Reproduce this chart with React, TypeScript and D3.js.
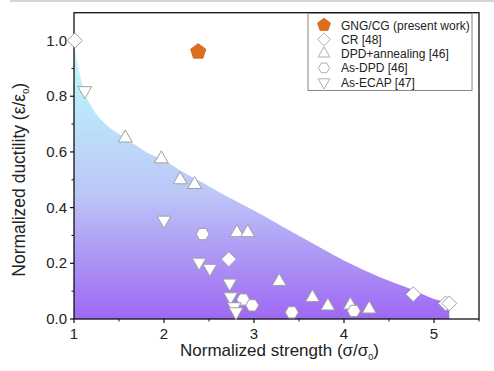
import React from "react";
import * as d3 from "d3";

const W = 494, H = 371;
const margin = { left: 74, right: 15, top: 12.7, bottom: 52 };

const gngX = [2.38]; const gngY = [0.96];
const crX = [1.01, 2.72, 4.77, 5.13, 5.17];
const crY = [1.0, 0.215, 0.089, 0.056, 0.056];
const dpdAnnX = [1.57, 1.97, 2.18, 2.34, 2.81, 2.93, 3.28, 3.65, 3.82, 4.07, 4.28];
const dpdAnnY = [0.65, 0.575, 0.5, 0.483, 0.31, 0.31, 0.135, 0.077, 0.047, 0.05, 0.036];
const asDpdX = [2.43, 2.88, 2.98, 3.42, 4.11];
const asDpdY = [0.305, 0.07, 0.049, 0.024, 0.029];
const ecapX = [1.12, 2.0, 2.39, 2.51, 2.73, 2.74, 2.78, 2.8];
const ecapY = [0.82, 0.355, 0.204, 0.182, 0.129, 0.08, 0.044, 0.026];

const envX = [1.0, 1.02, 1.05, 1.1, 1.2, 1.35, 1.57, 1.8, 2.0, 2.2, 2.4, 2.7, 3.0, 3.3, 3.62, 4.0, 4.4, 4.77, 5.0, 5.17];
const envY = [1.0, 0.95, 0.9, 0.83, 0.76, 0.7, 0.65, 0.6, 0.57, 0.53, 0.495, 0.44, 0.39, 0.335, 0.277, 0.21, 0.15, 0.104, 0.072, 0.06];

const xTicks = [1, 2, 3, 4, 5];
const yTicks = [0, 0.2, 0.4, 0.6, 0.8, 1.0];
const legendLabels = ["GNG/CG (present work)", "CR [48]", "DPD+annealing [46]", "As-DPD [46]", "As-ECAP [47]"];

const font = "Liberation Sans, Arial, Helvetica, sans-serif";

function polyPath(n: number, r: number, rot: number) {
  const pts: string[] = [];
  for (let i = 0; i < n; i++) {
    const a = rot + (i * 2 * Math.PI) / n;
    pts.push(`${(r * Math.cos(a)).toFixed(2)},${(r * Math.sin(a)).toFixed(2)}`);
  }
  return "M" + pts.join("L") + "Z";
}

const shapes: Record<string, string> = {
  pent: polyPath(5, 8, -Math.PI / 2),
  diamond: polyPath(4, 7.5, -Math.PI / 2),
  up: polyPath(3, 8, -Math.PI / 2),
  hex: polyPath(6, 6.5, 0),
  down: polyPath(3, 8, Math.PI / 2),
};

export default function App() {
  const x = d3.scaleLinear().domain([1, 5.5]).range([margin.left, W - margin.right]);
  const y = d3.scaleLinear().domain([0, 1.1]).range([H - margin.bottom, margin.top]);
  const x0 = margin.left, x1 = W - margin.right, y0 = H - margin.bottom, y1 = margin.top;

  const env = envX.map((v, i) => [v, envY[i]] as [number, number]);
  const area = d3.area<[number, number]>().x(d => x(d[0])).y0(y(0)).y1(d => y(d[1])).curve(d3.curveMonotoneX);

  const minorX = d3.range(1.5, 5.6, 1);
  const minorY = d3.range(0.1, 1.1, 0.2);

  const markerStyle = { fill: "#fff", stroke: "#a0a0a0", strokeWidth: 1 };
  const series = [
    { xs: crX, ys: crY, s: "diamond" },
    { xs: dpdAnnX, ys: dpdAnnY, s: "up" },
    { xs: asDpdX, ys: asDpdY, s: "hex" },
    { xs: ecapX, ys: ecapY, s: "down" },
  ];
  const legendShapes = ["pent", "diamond", "up", "hex", "down"];

  return (
    <svg width={W} height={H} style={{ position: "absolute", left: 0, top: 0 }}>
      <defs>
        <linearGradient id="g" x1="0" y1={y(1.0)} x2="0" y2={y(0)} gradientUnits="userSpaceOnUse">
          <stop offset="0" stopColor="#c2f8ff" />
          <stop offset="0.2" stopColor="#bcecfb" />
          <stop offset="0.55" stopColor="#bcc6f8" />
          <stop offset="1" stopColor="#9e68f3" />
        </linearGradient>
      </defs>
      <rect width={W} height={H} fill="#fff" />
      <line x1={10} x2={W} y1={1} y2={1} stroke="#c8c8c8" strokeWidth={1.5} />
      <path d={area(env) || ""} fill="url(#g)" />
      <rect x={x0} y={y1} width={x1 - x0} height={y0 - y1} fill="none" stroke="#111" strokeWidth={1.3} />
      {xTicks.map(t => (
        <g key={"xt" + t}>
          <line x1={x(t)} x2={x(t)} y1={y0} y2={y0 + 4} stroke="#111" strokeWidth={1.2} />
          <text x={x(t)} y={y0 + 20} textAnchor="middle" fontSize={15} fontFamily={font} fill="#222">{t}</text>
        </g>
      ))}
      {minorX.map(t => (
        <line key={"mx" + t} x1={x(t)} x2={x(t)} y1={y0} y2={y0 + 2.5} stroke="#111" strokeWidth={1} />
      ))}
      {yTicks.map(t => (
        <g key={"yt" + t}>
          <line x1={x0} x2={x0 - 4} y1={y(t)} y2={y(t)} stroke="#111" strokeWidth={1.2} />
          <text x={x0 - 7} y={y(t) + 5} textAnchor="end" fontSize={15} fontFamily={font} fill="#222">{t.toFixed(1)}</text>
        </g>
      ))}
      {minorY.map(t => (
        <line key={"my" + t} x1={x0} x2={x0 - 2.5} y1={y(t)} y2={y(t)} stroke="#111" strokeWidth={1} />
      ))}
      {series.map((s, si) =>
        s.xs.map((v, i) => (
          <path key={si + "-" + i} d={shapes[s.s]} transform={`translate(${x(v)},${y(s.ys[i])})`} {...markerStyle} />
        ))
      )}
      {gngX.map((v, i) => (
        <path key={"g" + i} d={shapes.pent} transform={`translate(${x(v)},${y(gngY[i])})`} fill="#dd6d1e" stroke="#dd6d1e" />
      ))}
      <text x={(x0 + x1) / 2 + 3} y={356} textAnchor="middle" fontSize={17} fontFamily={font} fill="#222">
        Normalized strength (σ/σ<tspan fontSize={9} dy={4}>0</tspan><tspan dy={-4}>)</tspan>
      </text>
      <text transform={`translate(25,${(y0 + y1) / 2 + 14}) rotate(-90)`} textAnchor="middle" fontSize={17.5} fontFamily={font} fill="#222">
        Normalized ductility (ε/ε<tspan fontSize={9} dy={4}>0</tspan><tspan dy={-4}>)</tspan>
      </text>
      <g>
        <rect x={308} y={13.5} width={164} height={77} fill="#fff" stroke="#888" strokeWidth={1} />
        {legendLabels.map((l, i) => {
          const ly = 25 + i * 14.3;
          const sh = legendShapes[i];
          return (
            <g key={l}>
              <path d={shapes[sh]} transform={`translate(324,${ly}) scale(0.85)`}
                fill={i === 0 ? "#dd6d1e" : "#fff"} stroke={i === 0 ? "#dd6d1e" : "#a0a0a0"} />
              <text x={341} y={ly + 4.5} fontSize={12} fontFamily={font} fill="#222">{l}</text>
            </g>
          );
        })}
      </g>
    </svg>
  );
}
